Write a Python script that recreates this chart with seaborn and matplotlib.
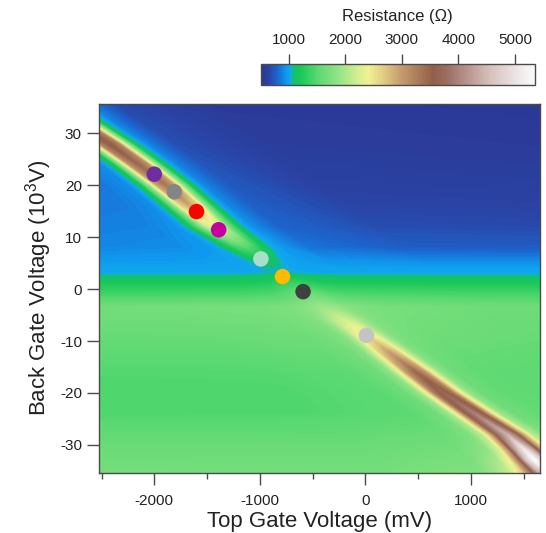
import numpy as np
import matplotlib
matplotlib.use("Agg")
import matplotlib.pyplot as plt
from matplotlib.colors import LinearSegmentedColormap, Normalize
from matplotlib.cm import ScalarMappable
import seaborn as sns
import pandas as pd

# ---------------- data ----------------
# mesh rows (back gate, 10^3 V) and the top-gate position of the resistance ridge in each row (mV)
row_y = [36, 32, 28, 24, 20, 16, 12, 8, 5.5, 4, 3, 2.2, 1, -1, -3.5, -6, -9, -12,
         -16, -20, -24, -28, -31, -33, -36]
ridge_x = [-3020, -2740, -2430, -2150, -1890, -1660, -1430, -1130, -960, -870, -810,
           -765, -682, -550, -371, -195, 17, 215, 480, 744, 1040, 1343, 1510, 1610, 1760]
# columns: top-gate offset from the ridge (mV)
offset_mv = [-6000, -1500, -600, -350, -230, -150, -80, 0, 80, 150, 230, 350, 600, 1500, 6000]
# resistance (Ohm) read at each row / column
resistance = [
    [900, 900, 900, 930, 1150, 2100, 3200, 3650, 3200, 2100, 1150, 900, 680, 560, 530],
    [900, 900, 900, 930, 1150, 2100, 3200, 3650, 3200, 2100, 1150, 900, 700, 570, 540],
    [880, 880, 880, 930, 1150, 2100, 3200, 3600, 3200, 2100, 1150, 900, 700, 580, 550],
    [860, 860, 870, 920, 1150, 2050, 3100, 3450, 3100, 2050, 1150, 900, 720, 600, 560],
    [840, 840, 860, 920, 1140, 1950, 2950, 3300, 2950, 1950, 1140, 900, 740, 620, 580],
    [850, 850, 870, 920, 1120, 1800, 2600, 2900, 2600, 1800, 1120, 910, 760, 650, 610],
    [870, 870, 890, 940, 1100, 1550, 2100, 2300, 2100, 1550, 1100, 930, 790, 690, 650],
    [900, 900, 920, 960, 1040, 1180, 1380, 1480, 1380, 1180, 1040, 950, 840, 760, 720],
    [960, 960, 970, 985, 1000, 1040, 1090, 1120, 1090, 1040, 1000, 980, 940, 910, 900],
    [1000, 1000, 1000, 1000, 1005, 1020, 1040, 1050, 1040, 1020, 1005, 1000, 1000, 990, 990],
    [1020, 1020, 1020, 1020, 1025, 1035, 1045, 1050, 1045, 1035, 1025, 1020, 1020, 1015, 1015],
    [1100, 1100, 1100, 1110, 1130, 1160, 1190, 1210, 1190, 1160, 1130, 1110, 1100, 1100, 1100],
    [1210, 1210, 1210, 1230, 1260, 1300, 1340, 1370, 1340, 1300, 1260, 1230, 1220, 1210, 1210],
    [1400, 1400, 1420, 1450, 1500, 1560, 1610, 1640, 1610, 1560, 1500, 1460, 1440, 1420, 1400],
    [1650, 1680, 1700, 1740, 1780, 1840, 1900, 1930, 1900, 1840, 1780, 1740, 1700, 1650, 1600],
    [1620, 1650, 1680, 1720, 1800, 1950, 2120, 2230, 2120, 1950, 1800, 1720, 1680, 1620, 1580],
    [1580, 1600, 1640, 1690, 1780, 2000, 2350, 2550, 2350, 2000, 1780, 1690, 1650, 1600, 1560],
    [1530, 1550, 1600, 1660, 1800, 2150, 2650, 2950, 2650, 2150, 1800, 1660, 1600, 1560, 1530],
    [1470, 1480, 1540, 1640, 1850, 2350, 3050, 3450, 3050, 2350, 1850, 1640, 1560, 1520, 1500],
    [1450, 1460, 1520, 1630, 1880, 2450, 3300, 3700, 3300, 2450, 1880, 1630, 1560, 1520, 1500],
    [1460, 1470, 1530, 1650, 1950, 2600, 3500, 3950, 3500, 2600, 1950, 1650, 1580, 1540, 1520],
    [1560, 1570, 1620, 1750, 2100, 2850, 3800, 4400, 3800, 2850, 2100, 1750, 1660, 1620, 1600],
    [1620, 1630, 1680, 1850, 2250, 3100, 4250, 5100, 4250, 3100, 2250, 1850, 1720, 1700, 1680],
    [1650, 1660, 1720, 2000, 2450, 3300, 4550, 5350, 4550, 3300, 2450, 2000, 1780, 1750, 1720],
    [1680, 1690, 1800, 2200, 2700, 3400, 4300, 4800, 4300, 3400, 2700, 2200, 1850, 1780, 1750],
]

# marked points
dot_x = [-2000, -1810, -1600, -1390, -990, -785, -590, 10]
dot_y = [22.1, 18.7, 14.9, 11.4, 5.8, 2.4, -0.5, -8.9]
dot_name = ["p1", "p2", "p3", "p4", "p5", "p6", "p7", "p8"]
dot_color = ["#6f2da0", "#858585", "#fe0000", "#c5009f", "#a9dfca", "#ffb900", "#404040", "#c4c4c4"]

# colour scale stops (resistance, colour)
cmap_r = [500, 650, 800, 950, 1020, 1070, 1200, 1500, 1900, 2200, 2400, 2700, 2950,
          3300, 3550, 3800, 4100, 4600, 5100, 5350]
cmap_c = ["#2b3590", "#2a45a8", "#1a68d0", "#0f98ee", "#10a8ee", "#12c070", "#18c858",
          "#58d870", "#98e488", "#d0ee90", "#f0f294", "#e0c880", "#c8a070", "#a87a5a",
          "#945e4a", "#9c6e60", "#b48e86", "#d8c4c0", "#f0eaea", "#fafafa"]
cbar_ticks = [1000, 2000, 3000, 4000, 5000]
x_major = [-2000, -1000, 0, 1000]
x_minor = [-2500, -1500, -500, 500, 1500]
y_major = [-30, -20, -10, 0, 10, 20, 30]

# ---------------- styling ----------------
sns.set_theme(style="ticks")
plt.rcParams["font.family"] = ["Liberation Sans", "DejaVu Sans"]
plt.rcParams["mathtext.fontset"] = "custom"
plt.rcParams["mathtext.rm"] = "Liberation Sans"
plt.rcParams["mathtext.it"] = "Liberation Sans:italic"

W, H = 546, 533
fig = plt.figure(figsize=(W / 100, H / 100), dpi=100)
fig.patch.set_facecolor("white")

vmin, vmax = 500, 5350
norm = Normalize(vmin=vmin, vmax=vmax)
pos = [(r - vmin) / (vmax - vmin) for r in cmap_r]
cmap = LinearSegmentedColormap.from_list("res", list(zip(pos, cmap_c)), N=512)

ax = fig.add_axes([99.3 / W, 1 - 472.5 / H, (540 - 99.3) / W, (472.5 - 104) / H])

ry = np.array(row_y, dtype=float)
rx = np.array(ridge_x, dtype=float)
off = np.array(offset_mv, dtype=float)
Z = np.array(resistance, dtype=float)
X = rx[:, None] + off[None, :]
Y = np.repeat(ry[:, None], len(off), axis=1)

levels = np.linspace(vmin, vmax, 300)
ax.contourf(X, Y, Z, levels=levels, cmap=cmap, norm=norm, extend="both", antialiased=False)

dots = pd.DataFrame({"x": dot_x, "y": dot_y, "name": dot_name})
sns.scatterplot(data=dots, x="x", y="y", hue="name", palette=dict(zip(dot_name, dot_color)),
                s=125, edgecolor="none", linewidth=0, legend=False, ax=ax, zorder=5)

ax.set_xlim(-2521, 1655)
ax.set_ylim(-35.3, 35.6)
ax.set_xticks(x_major)
ax.set_xticks(x_minor, minor=True)
ax.set_yticks(y_major)
ax.set_xticklabels([str(v) for v in x_major])
ax.set_yticklabels([str(v) for v in y_major])
frame_c = "#4a4a4a"
for s in ax.spines.values():
    s.set_color(frame_c)
    s.set_linewidth(1.0)
ax.tick_params(axis="both", which="major", direction="out", length=8.5, width=1.0,
               color=frame_c, labelsize=11, labelcolor="#222222")
ax.tick_params(axis="x", which="major", pad=7)
ax.tick_params(axis="y", which="major", pad=4)
ax.tick_params(axis="x", which="minor", direction="out", length=4.5, width=1.0, color=frame_c)
ax.set_xlabel("Top Gate Voltage (mV)", fontsize=16, color="#222222", labelpad=2)
ax.set_ylabel("Back Gate Voltage (10$^{3}$V)", fontsize=16, color="#222222", labelpad=4)

# colour bar
cax = fig.add_axes([260.7 / W, 1 - 84.7 / H, 274 / W, 20.7 / H])
sm = ScalarMappable(norm=norm, cmap=cmap)
cb = fig.colorbar(sm, cax=cax, orientation="horizontal", ticks=cbar_ticks)
cax.xaxis.set_ticks_position("top")
cax.xaxis.set_label_position("top")
cax.tick_params(axis="x", direction="out", length=7, width=1.0, color=frame_c,
                labelsize=11, labelcolor="#222222", pad=5)
cax.set_xticklabels([str(v) for v in cbar_ticks])
cb.outline.set_edgecolor(frame_c)
cb.outline.set_linewidth(1.0)
fig.text(397.7 / W, 1 - 21.5 / H, "Resistance (\u03a9)", ha="center", va="baseline",
         fontsize=12, color="#222222")

fig.savefig("out.png", dpi=100)
